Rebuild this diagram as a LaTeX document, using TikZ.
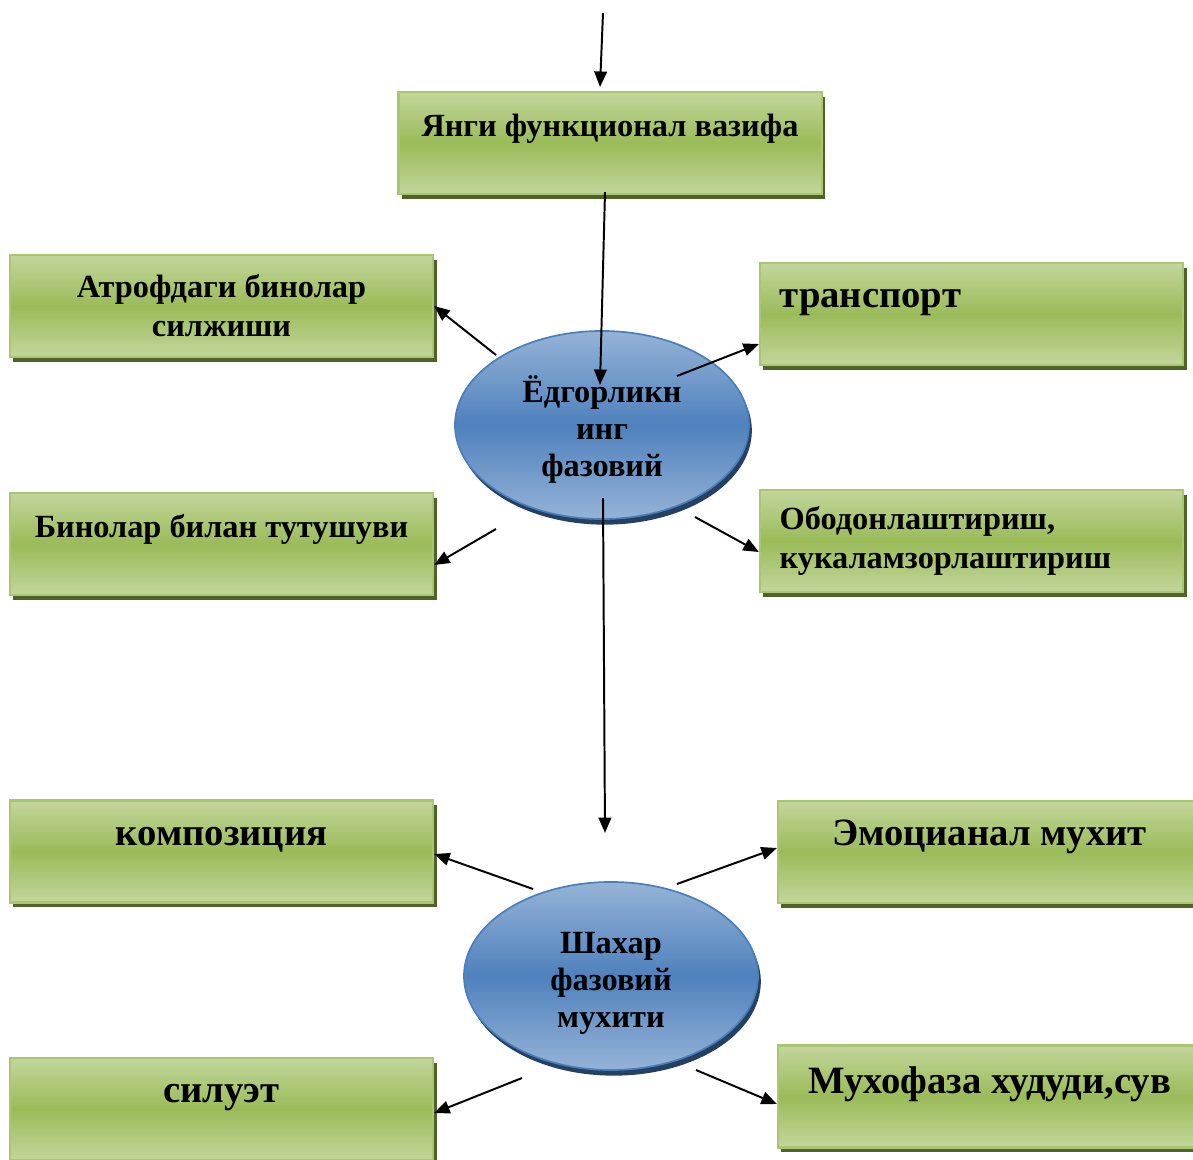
\documentclass[tikz,border=0pt]{standalone}
\usepackage{fontspec}
\setmainfont{Liberation Serif}
\usetikzlibrary{arrows.meta,shapes.geometric,shadows}

\definecolor{leaflight}{HTML}{C3D69B}
\definecolor{leafmid}{HTML}{9BBB59}
\definecolor{leafline}{HTML}{A8C770}
\definecolor{leafshadow}{HTML}{4F6228}
\definecolor{skylight}{HTML}{95B3D7}
\definecolor{skymid}{HTML}{4F81BD}
\definecolor{skyline}{HTML}{4A7EBB}
\definecolor{skyshadow}{HTML}{254061}

\tikzset{
  greenbox/.style={draw=leafline, line width=1.5pt,
    top color=leaflight, bottom color=leaflight, middle color=leafmid,
    minimum width=10.575cm, minimum height=2.55cm, inner sep=4pt,
    align=center, font=\bfseries\fontsize{23}{27.7}\selectfont,
    drop shadow={fill=leafshadow, opacity=1, shadow xshift=2.5pt, shadow yshift=-3.5pt}},
  bigtext/.style={font=\bfseries\fontsize{27.5}{32}\selectfont},
  lifted/.style={text height=16pt, text depth=25pt},
  leftside/.style={align=left, inner xsep=14pt, text width=9.59cm},
  bluecircle/.style={ellipse, draw=skyline, line width=1.2pt,
    top color=skylight, bottom color=skylight, middle color=skymid,
    minimum width=7.35cm, minimum height=4.7cm, inner sep=0pt,
    align=center, font=\bfseries\fontsize{23}{26.3}\selectfont,
    text height=78pt, text depth=5pt,
    drop shadow={fill=skyshadow, opacity=1, shadow xshift=2pt, shadow yshift=-4pt}},
  conn/.style={-{Triangle[length=11pt,width=9pt]}, line width=1.4pt}
}

\begin{document}
\begin{tikzpicture}[x=0.025cm, y=-0.025cm]
\useasboundingbox (0,0) rectangle (1193,1160);
\clip (0,0) rectangle (1193,1160);

% Boxes
\node[greenbox, lifted] (funk) at (610,143) {Янги функционал вазифа};
\node[greenbox] (atrof) at (221.5,306) {Атрофдаги бинолар\\силжиши};
\node[greenbox, lifted] (binolar) at (221.5,544) {Бинолар билан тутушуви};
\node[greenbox, leftside, bigtext, lifted] (transport) at (971.5,314) {транспорт};
\node[greenbox, leftside] (obodon) at (971.5,541) {Ободонлаштириш,\\кукаламзорлаштириш};
\node[greenbox, bigtext, lifted] (kompoz) at (221.5,851.5) {композиция};
\node[greenbox, bigtext, lifted] (siluet) at (221.5,1109) {силуэт};
\node[greenbox, bigtext, lifted] (emoc) at (989.5,852) {Эмоцианал мухит};
\node[greenbox, bigtext, lifted, text depth=20pt] (muxofaza) at (989.5,1096.5) {Мухофаза худуди,сув};

% Ellipses
\node[bluecircle] (yodgor) at (602,425) {Ёдгорликн\\инг\\фазовий};
\node[bluecircle] (shahar) at (611,976) {Шахар\\фазовий\\мухити};

% Arrows
\coordinate (entry) at (603,13);
\draw[conn] (entry) -- ([shift={(-10,-4)}]funk.north);
\draw[conn] ([shift={(-5,-3)}]funk.south) -- ([shift={(-2,-40)}]yodgor.center);
\draw[conn] ([shift={(-106,-70)}]yodgor.center) -- (atrof.east);
\draw[conn] ([shift={(-106,104)}]yodgor.center) -- ([shift={(0,21)}]binolar.east);
\draw[conn] ([shift={(75,-49)}]yodgor.center) -- ([shift={(0,30)}]transport.west);
\draw[conn] ([shift={(93,92)}]yodgor.center) -- ([shift={(0,11)}]obodon.west);
\draw[conn] ([shift={(1,73)}]yodgor.center) -- ([shift={(-6,-143)}]shahar.center);
\draw[conn] ([shift={(-78,-87)}]shahar.center) -- ([shift={(0,2.5)}]kompoz.east);
\draw[conn] ([shift={(66,-92)}]shahar.center) -- ([shift={(0,-4)}]emoc.west);
\draw[conn] ([shift={(-89,102)}]shahar.center) -- ([shift={(0,4)}]siluet.east);
\draw[conn] ([shift={(85,94)}]shahar.center) -- ([shift={(0,7.5)}]muxofaza.west);
\end{tikzpicture}
\end{document}
